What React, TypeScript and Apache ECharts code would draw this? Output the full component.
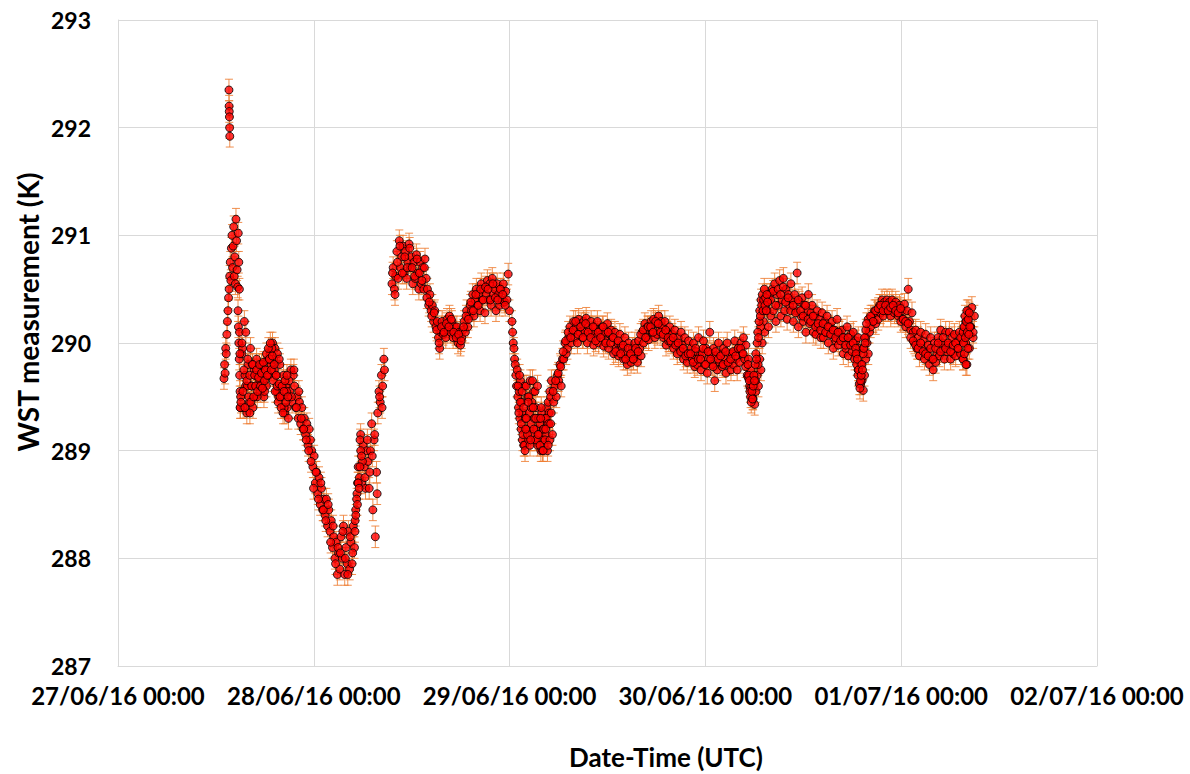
import React, { useEffect, useRef } from "react";
import * as echarts from "echarts";

// x axis: hours since 27/06/16 00:00 UTC
const xTickLabels = [
  "27/06/16 00:00",
  "28/06/16 00:00",
  "29/06/16 00:00",
  "30/06/16 00:00",
  "01/07/16 00:00",
  "02/07/16 00:00",
];
const xTitle = "Date-Time (UTC)";
const yTitle = "WST measurement (K)";
const yMin = 287;
const yMax = 293;
const errorK = 0.1; // measurement uncertainty (K)

// Segments of WST readings (K); each has a start hour and a sampling step (hours)
const riseValues = [
  289.67, 289.8, 289.72, 289.95, 289.9, 290.08, 290.2, 290.3, 290.42, 290.5,
  290.62, 290.75, 290.58, 290.88, 291.0, 290.7, 290.9, 291.08, 290.62, 290.8,
  290.55, 291.15, 290.95, 290.68, 290.52, 291.02, 290.75, 290.5,
];
const spikeValues = [292.35, 292.2, 292.15, 292.1, 292.0, 291.92];
const dropColumnValues = [290.3, 290.15, 290.0, 289.85, 289.7, 289.55, 289.4];
const day1Values = [
  290.1,
  289.5, 289.9, 289.4, 290.2, 289.6, 289.35,
  289.8, 289.45, 289.95, 289.6, 289.4, 289.75, 289.5,
  289.85, 289.6, 289.7, 289.55, 289.8,
  289.65, 289.5, 289.75, 289.6, 289.85, 289.7,
  289.9, 289.8, 290.0, 289.85, 289.95,
  289.7, 289.9, 289.5, 289.8, 289.6,
  289.5, 289.7, 289.35, 289.6, 289.4, 289.3,
  289.55, 289.75, 289.45, 289.7, 289.6, 289.4,
  289.5, 289.3, 289.45, 289.25, 289.4, 289.2,
  289.3, 289.15, 289.25, 289.05, 289.2, 289.1,
  289.0, 288.85, 288.95, 288.7, 288.8,
  288.6, 288.75, 288.5, 288.65, 288.45, 288.55,
  288.4, 288.55, 288.3, 288.45,
  288.25, 288.35, 288.1, 288.2,
  288.0, 288.15, 287.85, 288.05,
  287.9, 288.2, 288.0, 288.3,
  287.85, 288.1, 287.95, 288.25, 287.9, 288.15,
  287.95, 288.3, 288.1, 288.45,
  288.6, 288.85, 288.75, 289.15,
  288.7, 289.05, 288.85, 288.65, 289.0,
  288.9, 288.65, 289.0,
  289.25, 288.45, 289.1, 288.2, 288.8,
  289.35, 289.55, 289.45, 289.7, 289.6, 289.85,
];
const day1ValuesB = [
  289.4, 289.95, 289.7,
  289.6, 289.35, 289.8,
  289.7, 289.5, 289.65,
  289.8, 289.55, 289.7,
  289.85, 289.95, 289.75,
  289.55, 289.85,
  289.6, 289.4, 289.55,
  289.65, 289.5, 289.75,
  289.4, 289.55, 289.3,
  289.2, 289.1, 289.0,
  288.9, 288.65, 288.8,
  288.55, 288.7, 288.45,
  288.35, 288.5,
  288.15, 288.3,
  287.95, 288.1,
  288.05, 288.25,
  288.0, 287.85, 288.2,
  288.05, 288.35,
  288.7, 289.1,
  288.9, 288.75, 289.1,
  288.8, 288.95,
  289.15, 288.6,
  289.5, 289.4, 289.75,
];
const day1EarlyFill = [
  289.9, 289.45, 290.0, 289.55, 289.75, 289.4, 290.1, 289.65, 289.85, 289.5,
  289.7, 289.45, 289.6, 289.8, 289.5, 289.7, 289.6, 289.75, 289.55, 289.68,
  289.8, 289.6, 289.72, 289.58, 289.82, 289.65, 289.75, 289.9, 289.7, 289.95,
  289.85, 290.0, 289.75, 289.88, 289.65, 289.8, 289.55, 289.7, 289.6, 289.45,
  289.62, 289.5, 289.4, 289.6, 289.35, 289.55, 289.65, 289.45, 289.7, 289.5,
];
const recoveryRiseValues = [288.25, 288.4, 288.55, 288.5, 288.7, 288.65, 288.85, 289.0, 288.95];
const day2Values = [
  290.55, 290.7, 290.5, 290.62,
  290.85, 290.6, 290.95, 290.7, 290.8,
  290.9, 290.65, 290.85, 290.6, 290.75, 290.92, 290.7,
  290.8, 290.55, 290.75, 290.6, 290.82, 290.65, 290.5,
  290.75, 290.55, 290.7, 290.5, 290.78, 290.6,
  290.5, 290.35, 290.45, 290.3,
  290.35, 290.2, 290.3, 290.15,
  290.2, 290.05, 289.95, 290.1,
  290.2, 290.08, 290.15, 290.05, 290.22, 290.12,
  290.25, 290.1, 290.2, 290.05, 290.15, 290.08,
  290.15, 290.0, 290.1, 289.98, 290.05, 290.12,
  290.2, 290.1, 290.3, 290.15, 290.25, 290.35,
  290.3, 290.45, 290.25, 290.4, 290.5, 290.35,
  290.45, 290.3, 290.55, 290.4, 290.5, 290.28, 290.45, 290.58,
  290.4, 290.55, 290.35, 290.6, 290.45, 290.5, 290.3, 290.55,
  290.45, 290.35, 290.5, 290.4, 290.55, 290.38, 290.48,
  290.4, 290.64, 290.3,
];
const day2ValuesB = [
  290.65, 290.45,
  290.75, 290.9, 290.65,
  290.8, 290.7, 290.88,
  290.7, 290.62, 290.78,
  290.65, 290.58, 290.7,
  290.42, 290.38,
  290.25, 290.28,
  290.12, 290.0,
  290.15, 290.1, 290.18,
  290.15, 290.22, 290.1,
  290.05, 290.08, 290.02,
  290.15, 290.25, 290.22,
  290.38, 290.3, 290.45,
  290.35, 290.5, 290.4, 290.52,
  290.5, 290.4, 290.55, 290.42,
  290.4, 290.5, 290.45,
  290.35,
];
const fallValues = [
  290.2, 290.1, 290.0, 289.95, 289.85, 289.8, 289.7, 289.6, 289.75, 289.5,
  289.4, 289.55, 289.3, 289.65, 289.2, 289.45, 289.1, 289.35, 289.05, 289.6,
];
const dip2Fill = [
  289.6, 289.35, 289.7, 289.45, 289.25, 289.55, 289.15, 289.4, 289.05, 289.3,
  289.6, 289.2, 289.5, 289.1, 289.35, 289.65, 289.25, 289.45, 289.15, 289.55,
  289.3, 289.1, 289.4, 289.2, 289.05, 289.3, 289.15, 289.25, 289.0, 289.35,
  289.1, 289.2, 289.05, 289.3, 289.15, 289.4, 289.25, 289.45, 289.35, 289.55,
  289.5, 289.65,
];
const lateValues = [
  289.0, 289.3, 289.15, 289.5, 289.05, 289.4,
  289.65, 289.2, 289.55, 289.1, 289.6,
  289.3, 289.05, 289.4, 289.0, 289.2, 289.1,
  289.3, 289.0, 289.25, 289.1, 289.35, 289.15,
  289.45, 289.6, 289.5, 289.7,
  289.65, 289.8, 289.6, 289.85,
  289.85, 290.0, 289.9, 289.95,
  290.05, 290.15, 290.0, 290.1,
  290.2, 290.05, 290.15, 290.0, 290.22, 290.1, 290.18,
  290.05, 290.2, 290.1, 290.23, 290.0, 290.15, 290.08, 290.2,
  290.1, 289.98, 290.15, 290.05, 290.2, 290.0, 290.12, 290.08,
  290.15, 289.97, 290.1, 290.02, 290.18, 289.95, 290.08, 290.12,
  290.05, 289.9, 290.1, 289.95, 290.0, 289.88, 290.08, 289.98,
  289.95, 289.85, 290.05, 289.9, 289.8, 290.0, 289.88, 289.82,
  289.95, 289.85, 290.0, 289.9, 289.82, 290.02, 289.95, 289.88,
  290.1, 290.0, 290.18, 290.05, 290.15, 290.03, 290.12, 290.2,
  290.1, 290.22, 290.05, 290.18, 290.08, 290.25, 290.12, 290.2,
  290.15, 290.05, 290.2, 289.98, 290.1, 290.02, 290.15, 290.0,
  290.08, 289.95, 290.12, 290.0, 289.9, 290.05, 289.95, 290.1,
  289.98, 289.85, 290.05, 289.9, 289.82, 290.02, 289.88, 289.95,
  289.85, 290.0, 289.78, 289.92, 289.8, 290.05, 289.88, 289.75,
  289.9, 290.02, 289.8, 289.95, 289.72, 289.85, 290.1, 289.9,
  289.8, 289.95, 289.65, 289.88, 289.75, 290.0, 289.82, 289.9,
  289.78, 289.95, 289.85, 289.72, 290.0, 289.8, 289.9, 289.75,
  289.9, 289.8, 290.02, 289.85, 289.75, 289.95, 289.82, 290.0,
  289.9, 290.05, 289.85, 289.98,
  289.7, 289.85, 289.6, 289.75,
  289.5, 289.65, 289.43, 289.55,
  289.7, 289.6, 289.85, 289.75,
  290.0, 290.2, 290.1, 290.4,
  290.3, 290.15, 290.45, 290.25,
  290.5, 290.3, 290.55, 290.2, 290.45, 290.35, 290.58, 290.25,
  290.4, 290.6, 290.3, 290.5, 290.22, 290.45, 290.35, 290.55,
  290.4, 290.2, 290.45, 290.3, 290.65, 290.15, 290.38, 290.25,
  290.42, 290.2, 290.35, 290.1, 290.3, 290.45, 290.18, 290.28,
  290.35, 290.1, 290.25, 290.08, 290.3, 290.15, 290.22, 290.05,
  290.28, 290.05, 290.2, 290.1, 290.25, 290.0, 290.15, 290.08,
  290.2, 289.95, 290.12, 290.02, 290.22, 289.98, 290.1, 290.05,
  290.12, 289.9, 290.05, 289.95, 290.15, 289.88, 290.0, 290.08,
  289.92, 290.1, 289.85, 290.02, 289.9, 290.05, 289.95,
  289.8, 289.65, 289.56, 289.7,
  289.85, 290.0, 289.9, 290.1,
  290.15, 290.25, 290.2, 290.3, 290.18, 290.28,
  290.22, 290.35, 290.28, 290.4, 290.25, 290.38, 290.3, 290.4,
  290.3, 290.38, 290.25, 290.4, 290.32, 290.28, 290.38, 290.33,
  290.25, 290.35, 290.2, 290.3, 290.22, 290.36,
  290.15, 290.3, 290.5, 290.2, 290.12, 290.28,
  290.1, 290.0, 290.12, 289.95,
  290.05, 289.88, 290.1, 289.95, 290.02, 289.85, 290.08, 289.92,
  289.98, 289.8, 290.05, 289.85, 289.75, 290.0, 289.82, 289.9,
  290.05, 289.88, 290.12, 289.95, 290.0, 289.85, 290.1, 289.92,
  289.98, 290.1, 289.85, 290.05, 289.9, 290.08, 289.88, 290.0,
  289.95, 290.1, 289.9, 290.05, 289.85, 290.15,
  290.2, 289.8, 290.3, 289.95, 290.15, 290.33,
  290.05, 290.25,
];
const lateValuesB = [
  289.2, 289.45, 289.1,
  289.4, 289.3,
  289.15, 289.3, 289.0,
  289.2, 289.05, 289.25,
  289.55, 289.65,
  289.72, 289.78,
  289.92, 290.02,
  290.1, 290.05,
  290.12, 290.2, 290.08,
  290.15, 290.05, 290.18, 290.1,
  290.05, 290.15, 290.02, 290.1,
  290.05, 290.15, 290.0, 290.1,
  290.0, 290.05, 289.92, 290.02,
  289.9, 289.98, 289.85, 289.95,
  289.9, 289.85, 289.95, 289.92,
  290.08, 290.12, 290.05, 290.15,
  290.15, 290.1, 290.2, 290.18,
  290.1, 290.08, 290.12, 290.05,
  290.02, 290.05, 289.98, 290.0,
  289.92, 289.95, 289.88, 289.9,
  289.9, 289.82, 289.95, 289.85,
  289.85, 289.95, 289.8, 289.92,
  289.85, 289.78, 289.92, 289.85,
  289.88, 289.8, 289.92, 289.82,
  289.85, 289.92, 289.88, 289.95,
  289.95, 289.9,
  289.78, 289.68,
  289.58, 289.48,
  289.65, 289.8,
  290.15, 290.3,
  290.35, 290.4,
  290.4, 290.48, 290.35, 290.5,
  290.45, 290.52, 290.38, 290.42,
  290.3, 290.35, 290.28, 290.4,
  290.3, 290.25, 290.35, 290.22,
  290.2, 290.25, 290.15, 290.18,
  290.12, 290.18, 290.1, 290.15,
  290.08, 290.12, 290.05, 290.1,
  290.02, 290.05, 289.98, 290.05,
  289.98, 290.0, 289.95,
  289.75, 289.62,
  289.95, 290.05,
  290.22, 290.25, 290.2,
  290.3, 290.32, 290.35, 290.3,
  290.35, 290.3, 290.33, 290.35,
  290.3, 290.28, 290.32,
  290.22, 290.2, 290.18,
  290.05, 290.02,
  289.98, 289.95, 290.0, 289.92,
  289.9, 289.88, 289.95, 289.85,
  289.95, 290.0, 289.92, 290.05,
  289.95, 290.0, 289.92, 289.98,
  290.0, 289.95, 290.05,
  290.1, 290.0, 290.2,
  290.15, 290.1,
];
const dip3Values = [
  289.8, 289.7, 289.65, 289.55, 289.5, 289.45, 289.55, 289.48, 289.6, 289.7,
  289.65, 289.8, 289.9, 289.85, 290.0, 290.1, 290.05, 290.2, 290.3, 290.25,
  290.4, 290.35, 290.45, 290.3, 290.4, 290.5, 290.35, 290.42, 290.3, 290.45, 290.38,
];
const dip4Values = [
  289.9, 289.8, 289.85, 289.7, 289.75, 289.62, 289.58, 289.65, 289.7, 289.8,
  289.75, 289.9, 289.95, 290.05, 290.0, 290.12, 290.18,
];
const endValues = [
  289.85, 290.0, 290.15, 289.9, 290.25, 290.05, 289.8, 290.2, 290.3, 290.1,
  289.95, 290.22, 290.08, 290.28, 290.15,
];

const segments = [
  { start: 12.99, step: 0.07, values: riseValues },
  { start: 13.6, step: 0.02, values: spikeValues },
  { start: 14.71, step: 0.05, values: dropColumnValues },
  { start: 14.89, step: 0.15, values: day1Values },
  { start: 14.965, step: 0.3, values: day1ValuesB },
  { start: 14.95, step: 0.12, values: day1EarlyFill },
  { start: 29.05, step: 0.1, values: recoveryRiseValues },
  { start: 33.58, step: 0.15, values: day2Values },
  { start: 33.655, step: 0.3, values: day2ValuesB },
  { start: 48.29, step: 0.08, values: fallValues },
  { start: 49.03, step: 0.1, values: dip2Fill },
  { start: 49.89, step: 0.153, values: lateValues },
  { start: 49.97, step: 0.3064, values: lateValuesB },
  { start: 77.22, step: 0.08, values: dip3Values },
  { start: 90.46, step: 0.08, values: dip4Values },
  { start: 103.57, step: 0.06, values: endValues },
];

const FONT = "Lato, 'Open Sans', sans-serif";

export default function App() {
  const ref = useRef<HTMLDivElement>(null);

  useEffect(() => {
    if (!ref.current) return;
    const chart = echarts.init(ref.current, undefined, { renderer: "svg" });

    const data: number[][] = [];
    segments.forEach((seg) => {
      seg.values.forEach((v, i) => {
        data.push([seg.start + i * seg.step, v, errorK]);
      });
    });

    const errStyle = { stroke: "rgba(237,125,49,0.85)", lineWidth: 1 };

    chart.setOption({
      animation: false,
      backgroundColor: "#ffffff",
      grid: { left: 118, right: 93, top: 20, bottom: 108, containLabel: false },
      graphic: [
        {
          type: "text",
          x: 666,
          y: 757,
          style: {
            text: xTitle,
            font: "bold 26px Lato, 'Open Sans', sans-serif",
            fill: "#000",
            align: "center",
            verticalAlign: "middle",
          },
        },
        {
          type: "text",
          x: 28,
          y: 312,
          rotation: Math.PI / 2,
          style: {
            text: yTitle,
            font: "bold 28px Lato, 'Open Sans', sans-serif",
            fill: "#000",
            align: "center",
            verticalAlign: "middle",
          },
        },
      ],
      xAxis: {
        type: "value",
        min: 0,
        max: 120,
        interval: 24,
        axisLine: { show: true, lineStyle: { color: "#D9D9D9", width: 1 } },
        axisTick: { show: false },
        axisLabel: {
          margin: 17,
          fontFamily: FONT,
          fontWeight: "bold",
          fontSize: 24,
          color: "#000",
          showMinLabel: true,
          showMaxLabel: true,
          formatter: (v: number) => xTickLabels[Math.round(v / 24)] ?? "",
        },
        splitLine: { show: true, lineStyle: { color: "#D9D9D9", width: 1 } },
      },
      yAxis: {
        type: "value",
        min: yMin,
        max: yMax,
        interval: 1,
        axisLine: { show: true, lineStyle: { color: "#D9D9D9", width: 1 } },
        axisTick: { show: false },
        axisLabel: {
          margin: 27,
          fontFamily: FONT,
          fontWeight: "bold",
          fontSize: 23,
          color: "#000",
        },
        splitLine: { show: true, lineStyle: { color: "#D9D9D9", width: 1 } },
      },
      series: [
        {
          type: "custom",
          name: "error",
          z: 1,
          data,
          encode: { x: 0, y: 1 },
          renderItem: (params: any, api: any) => {
            const x = api.value(0);
            const y = api.value(1);
            const e = api.value(2);
            const hi = api.coord([x, y + e]);
            const lo = api.coord([x, y - e]);
            const w = 4;
            return {
              type: "group",
              children: [
                { type: "line", shape: { x1: hi[0], y1: hi[1], x2: lo[0], y2: lo[1] }, style: errStyle },
                { type: "line", shape: { x1: hi[0] - w, y1: hi[1], x2: hi[0] + w, y2: hi[1] }, style: errStyle },
                { type: "line", shape: { x1: lo[0] - w, y1: lo[1], x2: lo[0] + w, y2: lo[1] }, style: errStyle },
              ],
            };
          },
        },
        {
          type: "scatter",
          name: "WST",
          z: 2,
          data: data.map((d) => [d[0], d[1]]),
          symbol: "circle",
          symbolSize: 8,
          itemStyle: { color: "#FF0000", borderColor: "#000000", borderWidth: 1 },
        },
      ],
    });

    return () => chart.dispose();
  }, []);

  return (
    <div
      ref={ref}
      style={{ position: "fixed", left: 0, top: 0, width: 1190, height: 774, background: "#fff" }}
    />
  );
}
